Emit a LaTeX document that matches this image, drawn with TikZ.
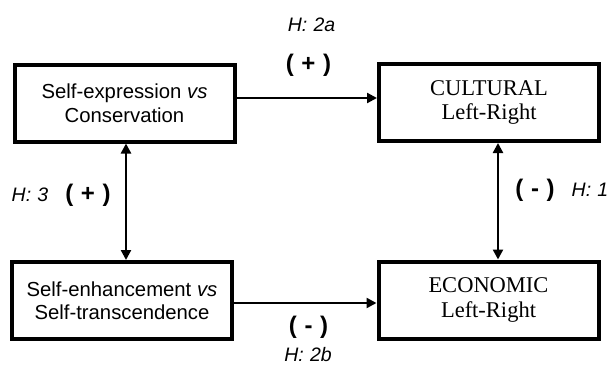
\documentclass[tikz,border=0pt]{standalone}
\usepackage{fontspec}
\setmainfont{Liberation Serif}
\newfontfamily\arialf{Liberation Sans}
\usetikzlibrary{arrows.meta}
\begin{document}
\begin{tikzpicture}[x=1pt,y=-1pt,
  box/.style={draw,line width=4pt,minimum width=220pt,minimum height=77pt,align=center,inner sep=0pt},
  sansbox/.style={box,font=\arialf\fontsize{20.3}{23.5}\selectfont},
  serifbox/.style={box,font=\fontsize{22.5}{24.5}\selectfont},
  conn/.style={line width=2.3pt,-{Triangle[length=10pt,width=10pt]}},
  bconn/.style={line width=2.3pt,{Triangle[length=10pt,width=10pt]}-{Triangle[length=10pt,width=10pt]}},
  hlab/.style={font=\arialf\itshape\fontsize{19.5}{22}\selectfont,inner sep=0pt},
  slab/.style={font=\arialf\bfseries\fontsize{24}{26}\selectfont,inner sep=0pt}]
\useasboundingbox (0,0) rectangle (614,372);
\node[sansbox] (b1) at (124.5,103) {Self-expression \textit{vs}\\Conservation};
\node[serifbox] (b2) at (489,102.5) {CULTURAL\\Left-Right};
\node[sansbox] (b3) at (122,300.5) {Self-enhancement \textit{vs}\\Self-transcendence};
\node[serifbox] (b4) at (488.5,300) {ECONOMIC\\Left-Right};
\draw[conn] ([yshift=5pt]b1.east) -- ([yshift=4.5pt]b2.west);
\draw[conn] ([yshift=-2.5pt]b3.east) -- ([yshift=-3pt]b4.west);
\draw[bconn] ([xshift=1.5pt]b1.south) -- ([xshift=4pt]b3.north);
\draw[bconn] ([xshift=9pt]b2.south) -- ([xshift=9.5pt]b4.north);
\node[hlab] (h2a) at (311.5,25) {H:\hspace{0.32em}2a};
\node[slab] (p2a) at (308.5,65) {(\hspace{0.32em}+\hspace{0.32em})};
\node[slab] (p2b) at (308.5,327) {(\hspace{0.32em}-\hspace{0.32em})};
\node[hlab] (h2b) at (308,355) {H:\hspace{0.32em}2b};
\node[hlab] (h3) at (30,195) {H:\hspace{0.32em}3};
\node[slab] (p3) at (88,195) {(\hspace{0.32em}+\hspace{0.32em})};
\node[slab] (p1) at (535,190) {(\hspace{0.32em}-\hspace{0.32em})};
\node[hlab] (h1) at (590,190) {H:\hspace{0.32em}1};
\end{tikzpicture}
\end{document}
